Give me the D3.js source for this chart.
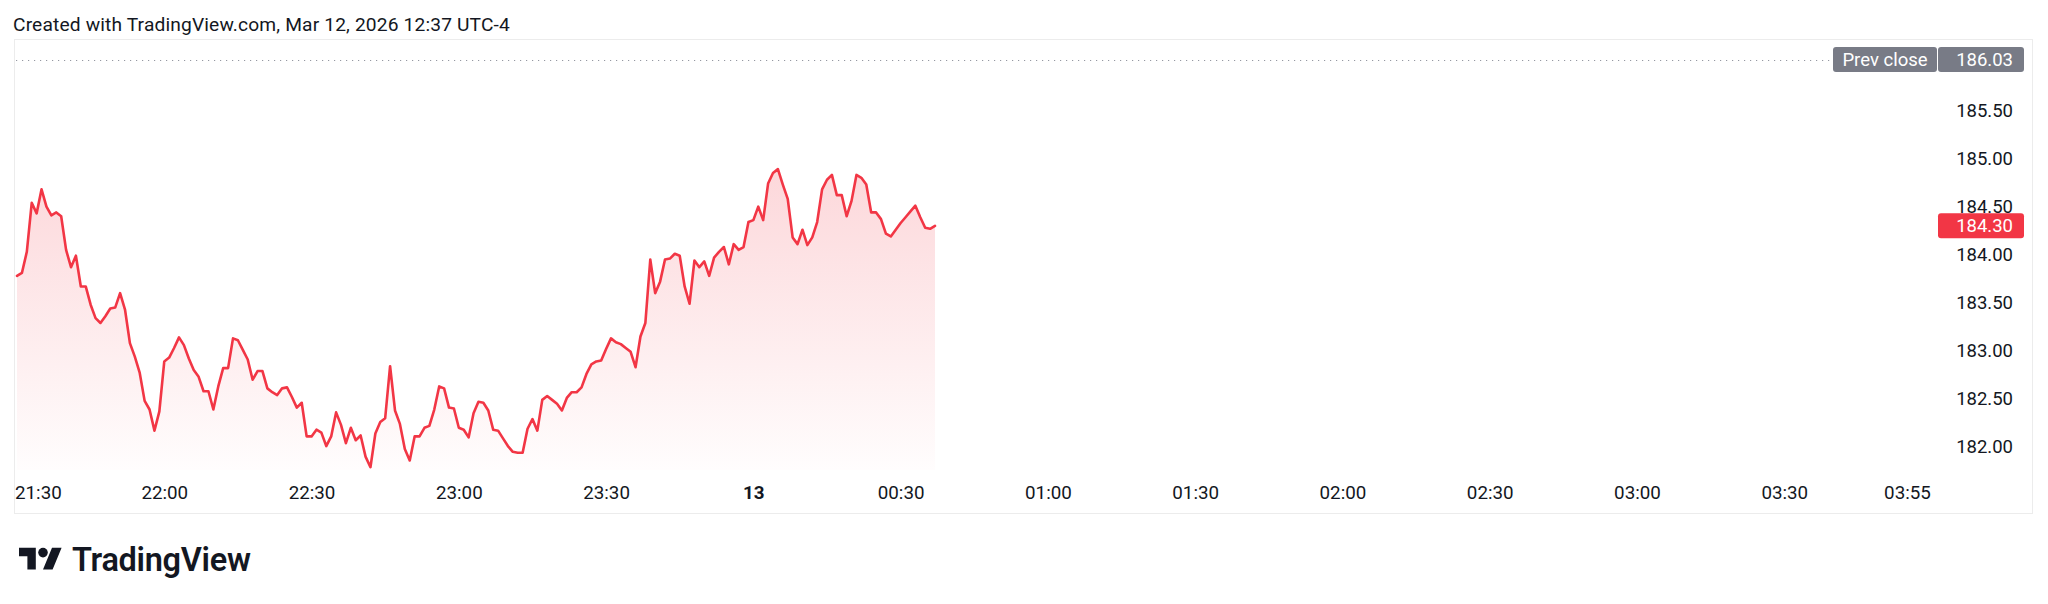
<!DOCTYPE html>
<html>
<head>
<meta charset="utf-8">
<script src="https://cdn.jsdelivr.net/npm/d3@7"></script>
<style>
  html, body { margin: 0; padding: 0; background: #ffffff; }
  svg { display: block; }
  text { font-family: Roboto, "Noto Sans", sans-serif; }
</style>
</head>
<body>
<script>
// ---------------- DATA ----------------
const title = "Created with TradingView.com, Mar 12, 2026 12:37 UTC-4";
const startTime = new Date(2026, 2, 12, 21, 30);   // first 1-minute bar
const endTime = new Date(2026, 2, 13, 3, 55);      // end of visible time scale
const prevClose = 186.03;
const lastPrice = 184.30;

// 1-minute closing prices, 21:30 -> 00:37
const prices = [
  183.78, 183.81, 184.03, 184.54, 184.43, 184.68, 184.50, 184.41, 184.44, 184.40,
  184.05, 183.87, 183.99, 183.67, 183.67, 183.48, 183.34, 183.29, 183.36, 183.44,
  183.45, 183.60, 183.43, 183.08, 182.94, 182.77, 182.48, 182.39, 182.17, 182.37,
  182.89, 182.93, 183.03, 183.14, 183.06, 182.92, 182.80, 182.73, 182.58, 182.58,
  182.39, 182.63, 182.82, 182.82, 183.13, 183.11, 183.01, 182.91, 182.70, 182.79,
  182.79, 182.61, 182.57, 182.54, 182.61, 182.62, 182.52, 182.41, 182.46, 182.11,
  182.11, 182.18, 182.15, 182.01, 182.11, 182.36, 182.23, 182.04, 182.20, 182.07,
  182.12, 181.90, 181.79, 182.14, 182.26, 182.30, 182.84, 182.38, 182.24, 181.98,
  181.86, 182.11, 182.11, 182.20, 182.22, 182.39, 182.63, 182.61, 182.41, 182.40,
  182.20, 182.18, 182.10, 182.35, 182.47, 182.46, 182.38, 182.18, 182.17, 182.09,
  182.01, 181.95, 181.94, 181.94, 182.19, 182.29, 182.17, 182.49, 182.53, 182.49,
  182.45, 182.38, 182.51, 182.57, 182.57, 182.62, 182.76, 182.86, 182.89, 182.90,
  183.02, 183.13, 183.09, 183.07, 183.03, 182.99, 182.83, 183.15, 183.29, 183.95,
  183.60, 183.72, 183.95, 183.96, 184.01, 183.99, 183.67, 183.49, 183.94, 183.87,
  183.93, 183.78, 183.97, 184.03, 184.08, 183.90, 184.11, 184.05, 184.08, 184.34,
  184.36, 184.50, 184.36, 184.74, 184.85, 184.89, 184.73, 184.58, 184.18, 184.11,
  184.26, 184.10, 184.18, 184.34, 184.68, 184.78, 184.83, 184.62, 184.62, 184.40,
  184.56, 184.83, 184.80, 184.73, 184.44, 184.44, 184.37, 184.22, 184.19, 184.26,
  184.33, 184.39, 184.45, 184.51, 184.39, 184.28, 184.27, 184.30
];

// time axis ticks (minutes after 21:30) and their labels
const timeTickOffsets = [0, 30, 60, 90, 120, 150, 180, 210, 240, 270, 300, 330, 360, 385];
const timeTickLabels = ["21:30", "22:00", "22:30", "23:00", "23:30", "13", "00:30", "01:00", "01:30", "02:00", "02:30", "03:00", "03:30", "03:55"];
const boldTickLabels = ["13"];

// price axis ticks
const priceTicks = [182.00, 182.50, 183.00, 183.50, 184.00, 184.50, 185.00, 185.50];

// ---------------- LAYOUT ----------------
const W = 2048, H = 604;
const plotLeft = 15, plotTop = 40, plotBottom = 470;
const frame = { x: 14.5, y: 39.5, w: 2018, h: 474 };
const lineColor = "#f23645";
const textColor = "#131722";

const svg = d3.select("body").append("svg").attr("width", W).attr("height", H);
svg.append("rect").attr("width", W).attr("height", H).attr("fill", "#fff");

const times = prices.map((_, i) => d3.timeMinute.offset(startTime, i));
const x = d3.scaleTime().domain([startTime, endTime]).range([17, 1907]);
const y = d3.scaleLinear().domain([182, 185.5]).range([447, 110.5]);

// header
svg.append("text").attr("x", 13).attr("y", 31)
  .attr("font-size", 19.2).attr("fill", textColor).attr("letter-spacing", 0.15).text(title);

// frame
svg.append("rect").attr("x", frame.x).attr("y", frame.y).attr("width", frame.w).attr("height", frame.h)
  .attr("fill", "none").attr("stroke", "#ececec").attr("stroke-width", 1);

// gradient
const defs = svg.append("defs");
const grad = defs.append("linearGradient").attr("id", "areaGrad")
  .attr("gradientUnits", "userSpaceOnUse").attr("x1", 0).attr("x2", 0).attr("y1", 165).attr("y2", plotBottom);
grad.append("stop").attr("offset", 0).attr("stop-color", lineColor).attr("stop-opacity", 0.2);
grad.append("stop").attr("offset", 1).attr("stop-color", lineColor).attr("stop-opacity", 0.01);

const series = prices.map((p, i) => ({ t: times[i], v: p }));

svg.append("path").datum(series)
  .attr("d", d3.area().x(d => x(d.t)).y0(plotBottom).y1(d => y(d.v)))
  .attr("fill", "url(#areaGrad)");

svg.append("path").datum(series)
  .attr("d", d3.line().x(d => x(d.t)).y(d => y(d.v)))
  .attr("fill", "none").attr("stroke", lineColor).attr("stroke-width", 2.6)
  .attr("stroke-linejoin", "round").attr("stroke-linecap", "round");

// prev close dotted line
svg.append("line").attr("x1", plotLeft + 1).attr("x2", 1832)
  .attr("y1", Math.round(y(prevClose)) + 0.5).attr("y2", Math.round(y(prevClose)) + 0.5)
  .attr("stroke", "#9598a1").attr("stroke-width", 1).attr("stroke-dasharray", "1.2,4.8");

// price axis
const yAxis = d3.axisRight(y).tickValues(priceTicks).tickSize(0).tickPadding(0)
  .tickFormat(d => d.toFixed(2));
const yAxisG = svg.append("g").attr("transform", "translate(2013,0)").call(yAxis);
yAxisG.select(".domain").remove();
yAxisG.selectAll("text").attr("text-anchor", "end").attr("x", 0)
  .attr("font-size", 18.5).attr("fill", textColor).attr("font-family", "Roboto, sans-serif");

// time axis
const timeTicks = timeTickOffsets.map(m => d3.timeMinute.offset(startTime, m));
const labelFor = new Map(timeTicks.map((t, i) => [+t, timeTickLabels[i]]));
const xAxis = d3.axisBottom(x).tickValues(timeTicks).tickSize(0).tickPadding(0)
  .tickFormat(d => labelFor.get(+d));
const xAxisG = svg.append("g").attr("transform", "translate(0,486)").call(xAxis);
xAxisG.select(".domain").remove();
xAxisG.selectAll("text")
  .attr("font-size", 18.8).attr("fill", textColor).attr("font-family", "Roboto, sans-serif")
  .attr("font-weight", d => boldTickLabels.includes(labelFor.get(+d)) ? 700 : 400)
  .each(function () {
    // keep first label inside the pane like TradingView does
    const bb = this.getBBox();
    const tr = d3.select(this.parentNode).attr("transform");
    const tx = +tr.match(/translate\(([-\d.]+)/)[1];
    if (tx + bb.x < plotLeft) d3.select(this).attr("dx", plotLeft - (tx + bb.x));
  });

// price labels
function priceLabel(parts, yc) {
  const g = svg.append("g");
  parts.forEach(p => {
    g.append("rect").attr("x", p.x).attr("y", yc - 12.5).attr("width", p.w).attr("height", 25)
      .attr("rx", 3).attr("fill", p.fill);
    g.append("text").attr("x", p.tx).attr("y", yc).attr("dy", "0.35em")
      .attr("text-anchor", p.anchor).attr("font-size", 18.5).attr("fill", "#fff").text(p.text);
  });
}
priceLabel([
  { x: 1833, w: 104, fill: "#787b86", tx: 1885, anchor: "middle", text: "Prev close" },
  { x: 1938, w: 86, fill: "#787b86", tx: 2013, anchor: "end", text: prevClose.toFixed(2) }
], y(prevClose));
priceLabel([
  { x: 1938, w: 86, fill: lineColor, tx: 2013, anchor: "end", text: lastPrice.toFixed(2) }
], y(lastPrice));

// TradingView logo
const logo = svg.append("g").attr("transform", "translate(19,543) scale(1.2)").attr("fill", "#131722");
logo.append("path").attr("d", "M14 22H7V11H0V4h14v18zM28 22h-8l7.5-18h8L28 22z");
logo.append("circle").attr("cx", 20).attr("cy", 8).attr("r", 4);
svg.append("text").attr("x", 72).attr("y", 571).attr("font-size", 32.5).attr("font-weight", 600)
  .attr("fill", "#131722").attr("font-family", "Inter, Roboto, sans-serif").attr("letter-spacing", -0.3)
  .text("TradingView");
</script>
</body>
</html>
